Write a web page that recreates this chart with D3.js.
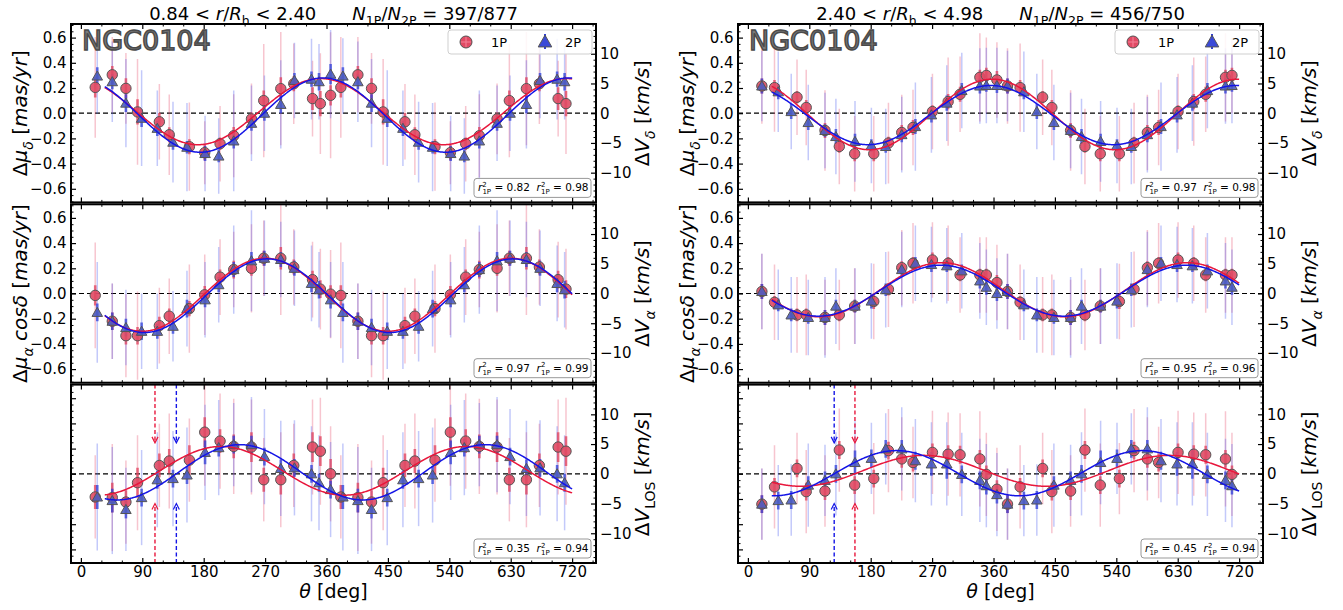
<!DOCTYPE html>
<html>
<head>
<meta charset="utf-8">
<script src="https://cdn.jsdelivr.net/npm/d3@7"></script>
<style>
  body { margin: 0; background: #fff; }
  svg { display: block; }
  text { font-family: "DejaVu Sans", sans-serif; fill: #000; white-space: pre; }
</style>
</head>
<body>
<svg id="chart" width="1343" height="610"></svg>
<script>
// ---------------- axis ticks ----------------
const thetaTicks = [0, 90, 180, 270, 360, 450, 540, 630, 720];
const masTicks = [-0.6, -0.4, -0.2, 0.0, 0.2, 0.4, 0.6];
const kmsTicks = [-10, -5, 0, 5, 10];

// ---------------- radial bins ----------------
const binLabels = ["0.84 < ", "2.40 < "];
const binUpper = ["2.40", "4.98"];
const starCounts = ["397/877", "456/750"];

// Position-angle bin centres (deg) for one turn; every bin is repeated at +360 deg.
const thetaInner1P = [21, 46, 66, 83, 115, 129.5, 159, 181.5, 204, 224, 250, 268, 293, 312, 339.5, 351, 366];
const thetaInner2P = [24, 46, 66, 89, 112, 135, 155.5, 182, 202, 224, 250, 269, 293, 313, 338, 349, 366];
const thetaOuter1P = [20.5, 39, 72, 85.5, 113, 134, 156.5, 184.5, 206, 225.5, 242, 270.5, 293.5, 311, 340, 349.5, 365];
const thetaOuter2P = [20.5, 44.5, 63.5, 88.5, 113, 129, 157, 181, 202, 225.5, 245.5, 269, 291.5, 313.5, 340, 349.5, 365];

// ---------------- inner bin: 0.84 < r/Rh < 2.40 ----------------
const muDecInner1P = [0.205, 0.305, 0.197, 0.01, -0.068, -0.171, -0.266, -0.313, -0.242, -0.179, -0.045, 0.10, 0.195, 0.234, 0.116, 0.076, 0.142];
const muDecInner1PErr = [0.08, 0.07, 0.08, 0.10, 0.07, 0.06, 0.06, 0.06, 0.05, 0.07, 0.05, 0.08, 0.09, 0.06, 0.09, 0.10, 0.08];
const muDecInner1PDisp = [0.40, 0.30, 0.28, 0.42, 0.30, 0.32, 0.35, 0.25, 0.30, 0.33, 0.28, 0.45, 0.45, 0.32, 0.30, 0.40, 0.50];
const muDecInner2P = [0.295, 0.25, 0.08, -0.04, -0.12, -0.23, -0.27, -0.32, -0.34, -0.22, -0.08, 0.0, 0.07, 0.26, 0.27, 0.25, 0.31];
const muDecInner2PErr = [0.07, 0.06, 0.07, 0.07, 0.06, 0.06, 0.05, 0.06, 0.05, 0.06, 0.06, 0.06, 0.07, 0.06, 0.06, 0.07, 0.08];
const muDecInner2PDisp = [0.30, 0.32, 0.35, 0.38, 0.30, 0.32, 0.35, 0.30, 0.30, 0.40, 0.30, 0.30, 0.35, 0.30, 0.32, 0.30, 0.35];

const muRaInner1P = [-0.015, -0.22, -0.335, -0.335, -0.255, -0.18, -0.12, -0.01, 0.13, 0.19, 0.20, 0.28, 0.28, 0.21, 0.11, 0.035, -0.005];
const muRaInner1PErr = [0.08, 0.07, 0.07, 0.07, 0.07, 0.06, 0.06, 0.07, 0.06, 0.07, 0.06, 0.06, 0.09, 0.06, 0.07, 0.07, 0.07];
const muRaInner1PDisp = [0.42, 0.30, 0.33, 0.35, 0.30, 0.30, 0.35, 0.32, 0.30, 0.30, 0.35, 0.30, 0.45, 0.30, 0.30, 0.32, 0.35];
const muRaInner2P = [-0.15, -0.22, -0.27, -0.30, -0.30, -0.26, -0.12, -0.05, 0.07, 0.19, 0.26, 0.28, 0.27, 0.20, 0.08, 0.03, -0.05];
const muRaInner2PErr = [0.07, 0.07, 0.07, 0.07, 0.06, 0.06, 0.07, 0.06, 0.06, 0.06, 0.07, 0.06, 0.06, 0.06, 0.07, 0.07, 0.07];
const muRaInner2PDisp = [0.40, 0.30, 0.30, 0.30, 0.30, 0.28, 0.30, 0.30, 0.30, 0.35, 0.40, 0.30, 0.30, 0.30, 0.30, 0.30, 0.30];

const vLosInner1P = [-3.9, -4.0, -4.75, -1.5, 1.4, 2.15, 2.3, 7.0, 5.5, 4.6, 4.5, -1.0, -1.0, 1.4, 4.5, 3.8, 0.0];
const vLosInner1PErr = [2.0, 2.5, 2.0, 2.5, 2.0, 2.0, 2.5, 2.5, 2.0, 2.0, 2.5, 2.0, 2.5, 2.0, 2.5, 2.5, 2.5];
const vLosInner1PDisp = [7, 9, 7, 8, 7, 8, 7, 9, 8, 8, 8, 7, 8, 7, 8, 9, 8];
const vLosInner2P = [-3.9, -4.5, -6.0, -4.0, -1.0, -0.8, -0.2, 3.6, 4.4, 4.9, 4.9, 2.9, 0.9, 1.0, 0.0, -1.5, -2.65];
const vLosInner2PErr = [2.0, 2.0, 1.5, 1.5, 1.5, 1.5, 1.5, 2.0, 1.5, 1.5, 1.5, 1.5, 1.5, 1.5, 1.5, 1.5, 1.5];
const vLosInner2PDisp = [9, 9, 7, 8, 8, 8, 8, 8, 8, 7, 8, 8, 8, 8, 8, 8, 8];

// ---------------- outer bin: 2.40 < r/Rh < 4.98 ----------------
const muDecOuter1P = [0.216, 0.203, 0.127, 0.045, -0.137, -0.264, -0.322, -0.322, -0.237, -0.153, -0.113, 0.013, 0.092, 0.15, 0.285, 0.30, 0.264];
const muDecOuter1PErr = [0.06, 0.06, 0.05, 0.06, 0.06, 0.05, 0.06, 0.06, 0.05, 0.06, 0.06, 0.05, 0.06, 0.06, 0.06, 0.06, 0.07];
const muDecOuter1PDisp = [0.30, 0.35, 0.30, 0.30, 0.32, 0.30, 0.30, 0.30, 0.32, 0.30, 0.30, 0.30, 0.35, 0.30, 0.35, 0.30, 0.30];
const muDecOuter2P = [0.216, 0.17, 0.013, -0.074, -0.137, -0.185, -0.224, -0.256, -0.264, -0.17, -0.106, -0.013, 0.08, 0.18, 0.216, 0.22, 0.22];
const muDecOuter2PErr = [0.06, 0.06, 0.06, 0.06, 0.05, 0.06, 0.06, 0.05, 0.05, 0.06, 0.06, 0.06, 0.06, 0.06, 0.06, 0.05, 0.06];
const muDecOuter2PDisp = [0.28, 0.32, 0.30, 0.30, 0.30, 0.30, 0.32, 0.30, 0.30, 0.30, 0.35, 0.30, 0.30, 0.30, 0.30, 0.30, 0.30];

const muRaOuter1P = [0.016, -0.07, -0.17, -0.17, -0.19, -0.17, -0.10, -0.063, 0.034, 0.205, 0.24, 0.266, 0.24, 0.147, 0.147, 0.147, 0.087];
const muRaOuter1PErr = [0.06, 0.05, 0.05, 0.05, 0.06, 0.05, 0.05, 0.06, 0.05, 0.05, 0.05, 0.06, 0.05, 0.05, 0.05, 0.05, 0.06];
const muRaOuter1PDisp = [0.30, 0.30, 0.30, 0.32, 0.30, 0.28, 0.30, 0.30, 0.30, 0.30, 0.32, 0.30, 0.30, 0.30, 0.30, 0.30, 0.30];
const muRaOuter2P = [0.016, -0.09, -0.17, -0.19, -0.19, -0.10, -0.10, -0.06, 0.03, 0.19, 0.24, 0.23, 0.22, 0.18, 0.10, 0.05, 0.0];
const muRaOuter2PErr = [0.06, 0.05, 0.05, 0.05, 0.06, 0.05, 0.05, 0.06, 0.05, 0.05, 0.05, 0.06, 0.05, 0.05, 0.06, 0.06, 0.06];
const muRaOuter2PDisp = [0.30, 0.28, 0.30, 0.30, 0.32, 0.30, 0.30, 0.30, 0.30, 0.30, 0.30, 0.30, 0.30, 0.30, 0.30, 0.30, 0.28];

const vLosOuter1P = [-5.1, -2.2, 0.9, -3.0, -2.9, 4.0, -1.9, -0.8, 3.9, 2.5, 1.9, 3.6, 3.3, 3.2, 2.5, -0.1, -2.6];
const vLosOuter1PErr = [1.5, 1.5, 1.5, 1.5, 1.5, 1.5, 1.5, 1.5, 1.5, 1.5, 1.5, 1.5, 1.5, 1.5, 1.5, 1.5, 1.5];
const vLosOuter1PDisp = [6, 7, 6, 7, 6, 7, 7, 6, 7, 7, 6, 7, 7, 7, 8, 7, 7];
const vLosOuter2P = [-5.1, -4.5, -4.4, -1.9, -1.1, 0.0, 1.9, 2.6, 4.2, 4.2, 2.2, 1.66, 1.66, -0.1, -1.1, -2.0, -3.5];
const vLosOuter2PErr = [1.5, 1.5, 1.5, 1.5, 1.5, 1.5, 2.0, 1.5, 1.5, 1.5, 1.5, 2.0, 2.5, 1.5, 1.5, 1.5, 1.5];
const vLosOuter2PDisp = [6, 6, 6, 7, 6, 7, 7, 6, 6, 7, 7, 7, 7, 7, 7, 7, 7];

// Sinusoid fits: [offset, amplitude, angle of maximum (deg)]
const fitMuDecInner1P = [0.0125, 0.2625, 351.5];
const fitMuDecInner2P = [-0.015, 0.295, 355];
const fitMuRaInner1P = [-0.01, 0.29, 270];
const fitMuRaInner2P = [-0.0175, 0.2925, 273];
const fitLosInner1P = [0.5, 4.1, 205.6];
const fitLosInner2P = [0.25, 4.65, 233];
const fitMuDecOuter1P = [-0.01, 0.28, 358];
const fitMuDecOuter2P = [-0.015, 0.235, 356];
const fitMuRaOuter1P = [0.03, 0.215, 284];
const fitMuRaOuter2P = [0.0225, 0.2025, 283];
const fitLosOuter1P = [0.5, 2.6, 258];
const fitLosOuter2P = [0.1, 3.8, 218];

// Goodness of fit shown in each panel
const r2Inner = [["0.82", "0.98"], ["0.97", "0.99"], ["0.35", "0.94"]];
const r2Outer = [["0.97", "0.98"], ["0.95", "0.96"], ["0.45", "0.94"]];

// ---------------- layout & style ----------------
const colX = [71, 738];
const panelW = 525;
const rowY = [24, 204.3, 384.6];
const panelH = 178.4;
const xDomain = [-14.5, 755];
const masLim = 0.708;
const kmsLim = 15;
const fitRange = [35, 720];

const style = {
  "1P": { fill: "#e04a64", bar: "#e0405c", line: "#e8173c", thin: "#e8506e" },
  "2P": { fill: "#4d5cc0", bar: "#2f3fd8", line: "#1414e6", thin: "#4a5af0" }
};

const svg = d3.select("#chart");
svg.append("rect").attr("width", 1343).attr("height", 610).attr("fill", "#fff");

// rich text helper: parts = [[text, flags]] flags: i italic, s subscript, S superscript
function rich(sel, parts, size) {
  let shift = 0;
  parts.forEach(([t, f]) => {
    const ts = sel.append("tspan").text(t);
    if (f.includes("i")) ts.attr("font-style", "italic");
    let target = 0;
    if (f.includes("s")) target = size * 0.28;
    if (f.includes("S")) target = -size * 0.38;
    if (target !== shift) ts.attr("dy", target - shift);
    shift = target;
    if (f.includes("s") || f.includes("S")) ts.attr("font-size", size * 0.7);
  });
  return sel;
}

const columns = [
  {
    theta: { "1P": thetaInner1P, "2P": thetaInner2P },
    rows: [
      { unit: "mas", data: { "1P": [muDecInner1P, muDecInner1PErr, muDecInner1PDisp], "2P": [muDecInner2P, muDecInner2PErr, muDecInner2PDisp] },
        fit: { "1P": fitMuDecInner1P, "2P": fitMuDecInner2P } },
      { unit: "mas", data: { "1P": [muRaInner1P, muRaInner1PErr, muRaInner1PDisp], "2P": [muRaInner2P, muRaInner2PErr, muRaInner2PDisp] },
        fit: { "1P": fitMuRaInner1P, "2P": fitMuRaInner2P } },
      { unit: "kms", data: { "1P": [vLosInner1P, vLosInner1PErr, vLosInner1PDisp], "2P": [vLosInner2P, vLosInner2PErr, vLosInner2PDisp] },
        fit: { "1P": fitLosInner1P, "2P": fitLosInner2P } }
    ],
    r2: r2Inner
  },
  {
    theta: { "1P": thetaOuter1P, "2P": thetaOuter2P },
    rows: [
      { unit: "mas", data: { "1P": [muDecOuter1P, muDecOuter1PErr, muDecOuter1PDisp], "2P": [muDecOuter2P, muDecOuter2PErr, muDecOuter2PDisp] },
        fit: { "1P": fitMuDecOuter1P, "2P": fitMuDecOuter2P } },
      { unit: "mas", data: { "1P": [muRaOuter1P, muRaOuter1PErr, muRaOuter1PDisp], "2P": [muRaOuter2P, muRaOuter2PErr, muRaOuter2PDisp] },
        fit: { "1P": fitMuRaOuter1P, "2P": fitMuRaOuter2P } },
      { unit: "kms", data: { "1P": [vLosOuter1P, vLosOuter1PErr, vLosOuter1PDisp], "2P": [vLosOuter2P, vLosOuter2PErr, vLosOuter2PDisp] },
        fit: { "1P": fitLosOuter1P, "2P": fitLosOuter2P } }
    ],
    r2: r2Outer
  }
];

const leftLabels = [
  [["Δ", ""], ["μ", "i"], ["δ", "si"], [" [", ""], ["mas/yr", "i"], ["]", ""]],
  [["Δ", ""], ["μ", "i"], ["α", "si"], [" cosδ", "i"], [" [", ""], ["mas/yr", "i"], ["]", ""]],
  null
];
const rightLabels = [
  [["Δ", ""], ["V", "i"], ["δ", "si"], [" [", ""], ["km/s", "i"], ["]", ""]],
  [["Δ", ""], ["V", "i"], ["α", "si"], [" [", ""], ["km/s", "i"], ["]", ""]],
  [["Δ", ""], ["V", "i"], ["LOS", "s"], [" [", ""], ["km/s", "i"], ["]", ""]]
];

const fmtMas = d3.format(".1f");
const fmtKms = d3.format("d");
const range = (a, b, s) => d3.range(a, b + s / 2, s);

columns.forEach((col, ci) => {
  const x0 = colX[ci];
  const x = d3.scaleLinear().domain(xDomain).range([x0, x0 + panelW]);

  col.rows.forEach((row, ri) => {
    const y0 = rowY[ri];
    const yMas = d3.scaleLinear().domain([-masLim, masLim]).range([y0 + panelH, y0]);
    const yKms = d3.scaleLinear().domain([-kmsLim, kmsLim]).range([y0 + panelH, y0]);
    const yData = row.unit === "mas" ? yMas : yKms;

    const clipId = `clip-${ci}-${ri}`;
    svg.append("clipPath").attr("id", clipId)
      .append("rect").attr("x", x0).attr("y", y0).attr("width", panelW).attr("height", panelH);
    const g = svg.append("g").attr("clip-path", `url(#${clipId})`);

    // zero reference
    g.append("line")
      .attr("x1", x0).attr("x2", x0 + panelW)
      .attr("y1", yData(0)).attr("y2", yData(0))
      .attr("stroke", "#000").attr("stroke-width", 1.2).attr("stroke-dasharray", "5,3");

    // points for both turns
    const pts = {};
    ["1P", "2P"].forEach(pop => {
      const [vals, err, disp] = row.data[pop];
      const th = col.theta[pop];
      const list = [];
      th.forEach((t, i) => {
        [0, 360].forEach(off => {
          if (t + off <= 720) list.push({ t: t + off, v: vals[i], e: err[i], d: disp[i] });
        });
      });
      pts[pop] = list;
    });

    // dispersion bars (thin, pale) and error bars (thick)
    ["1P", "2P"].forEach(pop => {
      const st = style[pop];
      g.selectAll(null).data(pts[pop]).join("line")
        .attr("x1", d => x(d.t)).attr("x2", d => x(d.t))
        .attr("y1", d => yData(d.v + d.d)).attr("y2", d => yData(d.v - d.d))
        .attr("stroke", st.thin).attr("stroke-width", 1.5).attr("stroke-opacity", 0.33);
    });
    ["1P", "2P"].forEach(pop => {
      const st = style[pop];
      g.selectAll(null).data(pts[pop]).join("line")
        .attr("x1", d => x(d.t)).attr("x2", d => x(d.t))
        .attr("y1", d => yData(d.v + d.e)).attr("y2", d => yData(d.v - d.e))
        .attr("stroke", st.bar).attr("stroke-width", 2.6).attr("stroke-opacity", 0.75);
    });

    // markers
    g.selectAll(null).data(pts["1P"]).join("circle")
      .attr("cx", d => x(d.t)).attr("cy", d => yData(d.v)).attr("r", 5.2)
      .attr("fill", style["1P"].fill).attr("fill-opacity", 0.9)
      .attr("stroke", "#555").attr("stroke-width", 1);
    const tri = d3.symbol().type(d3.symbolTriangle).size(48);
    g.selectAll(null).data(pts["2P"]).join("path")
      .attr("d", tri)
      .attr("transform", d => `translate(${x(d.t)},${yData(d.v) + 1})`)
      .attr("fill", style["2P"].fill).attr("fill-opacity", 0.9)
      .attr("stroke", "#555").attr("stroke-width", 1);

    // sinusoid fits
    const thetaFit = d3.range(fitRange[0], fitRange[1] + 0.5, 1);
    ["1P", "2P"].forEach(pop => {
      const [c, A, tp] = row.fit[pop];
      const line = d3.line()
        .x(t => x(t))
        .y(t => yData(c + A * Math.cos((t - tp) * Math.PI / 180)));
      g.append("path").datum(thetaFit).attr("d", line)
        .attr("fill", "none").attr("stroke", style[pop].line).attr("stroke-width", 1.5);
    });

    // zero-crossing arrows on the line-of-sight panel
    if (row.unit === "kms") {
      ["1P", "2P"].forEach(pop => {
        const [c, A, tp] = row.fit[pop];
        const tc = tp - 90 - Math.asin(c / A) * 180 / Math.PI;
        const xc = x(tc);
        const col_ = style[pop].line;
        const yTopEnd = yKms(5.2), yBotEnd = yKms(-5.0);
        g.append("line").attr("x1", xc).attr("x2", xc).attr("y1", y0).attr("y2", yTopEnd - 1)
          .attr("stroke", col_).attr("stroke-width", 1.4).attr("stroke-dasharray", "4,2.5");
        g.append("path").attr("d", `M${xc - 3},${yTopEnd - 6} L${xc},${yTopEnd} L${xc + 3},${yTopEnd - 6}`)
          .attr("fill", "none").attr("stroke", col_).attr("stroke-width", 1.2);
        g.append("line").attr("x1", xc).attr("x2", xc).attr("y1", y0 + panelH).attr("y2", yBotEnd + 1)
          .attr("stroke", col_).attr("stroke-width", 1.4).attr("stroke-dasharray", "4,2.5");
        g.append("path").attr("d", `M${xc - 3},${yBotEnd + 6} L${xc},${yBotEnd} L${xc + 3},${yBotEnd + 6}`)
          .attr("fill", "none").attr("stroke", col_).attr("stroke-width", 1.2);
      });
    }

    // ---------- axes (inward ticks on all sides) ----------
    const majorX = thetaTicks;
    const minorX = range(0, 750, 30).filter(v => v % 90 !== 0);
    const minorMas = range(-0.7, 0.7, 0.05).filter(v => Math.abs(Math.round(v * 100) % 20) !== 0);
    const minorKms = range(-15, 15, 1).filter(v => v % 5 !== 0);

    const axG = svg.append("g").attr("class", "axes");
    function place(axis, tx, ty) {
      const a = axG.append("g").attr("transform", `translate(${tx},${ty})`).call(axis);
      a.select(".domain").remove();
      a.selectAll(".tick line").attr("stroke", "#000");
      a.selectAll(".tick text").attr("font-size", 15).attr("font-family", "DejaVu Sans").attr("fill", "#000");
      return a;
    }
    const showX = ri === 2;
    place(d3.axisBottom(x).tickValues(majorX).tickSize(-5).tickPadding(3.5)
      .tickFormat(showX ? d3.format("d") : () => ""), 0, y0 + panelH)
      .selectAll(".tick line").attr("stroke-width", 1.2);
    place(d3.axisBottom(x).tickValues(minorX).tickSize(-2.5).tickFormat(() => ""), 0, y0 + panelH);
    place(d3.axisTop(x).tickValues(majorX).tickSize(-5).tickFormat(() => ""), 0, y0)
      .selectAll(".tick line").attr("stroke-width", 1.2);
    place(d3.axisTop(x).tickValues(minorX).tickSize(-2.5).tickFormat(() => ""), 0, y0);

    const showLeft = row.unit === "mas";
    place(d3.axisLeft(yMas).tickValues(masTicks).tickSize(-5).tickPadding(4.5)
      .tickFormat(showLeft ? fmtMas : () => ""), x0, 0)
      .selectAll(".tick line").attr("stroke-width", 1.2);
    place(d3.axisLeft(yMas).tickValues(minorMas).tickSize(-2.5).tickFormat(() => ""), x0, 0);
    place(d3.axisRight(yKms).tickValues(kmsTicks).tickSize(-5).tickPadding(4)
      .tickFormat(fmtKms), x0 + panelW, 0)
      .selectAll(".tick line").attr("stroke-width", 1.2);
    place(d3.axisRight(yKms).tickValues(minorKms).tickSize(-2.5).tickFormat(() => ""), x0 + panelW, 0);

    // frame
    svg.append("rect").attr("x", x0).attr("y", y0).attr("width", panelW).attr("height", panelH)
      .attr("fill", "none").attr("stroke", "#000").attr("stroke-width", 2);

    // r^2 box
    const [r1, r2] = col.r2[ri];
    const bw = 117, bh = 19;
    const bx = x0 + panelW - 5 - bw, by = y0 + panelH - 5 - bh;
    svg.append("rect").attr("x", bx).attr("y", by).attr("width", bw).attr("height", bh)
      .attr("rx", 3).attr("fill", "#fff").attr("fill-opacity", 0.85)
      .attr("stroke", "#999").attr("stroke-width", 1);
    const rt = svg.append("text").attr("x", bx + 4).attr("y", by + 13).attr("font-size", 10.5);
    [r1, r2].forEach((val, k) => {
      rt.append("tspan").attr("font-style", "italic").text("r");
      rt.append("tspan").attr("font-size", 7).attr("dy", -4.5).text("2");
      rt.append("tspan").attr("font-size", 7).attr("dx", -4.4).attr("dy", 7.5).text("1P");
      rt.append("tspan").attr("dy", -3).text(` = ${val}` + (k ? "" : "  "));
    });

    // axis labels
    if (leftLabels[ri]) {
      const lt = svg.append("text")
        .attr("transform", `translate(${x0 - 44},${y0 + panelH / 2}) rotate(-90)`)
        .attr("text-anchor", "middle").attr("font-size", 20);
      rich(lt, leftLabels[ri], 20);
    }
    const rtl = svg.append("text")
      .attr("transform", `translate(${x0 + panelW + 53},${y0 + panelH / 2}) rotate(-90)`)
      .attr("text-anchor", "middle").attr("font-size", 20);
    rich(rtl, rightLabels[ri], 20);

    if (ri === 2) {
      const xt = svg.append("text").attr("x", x0 + panelW / 2).attr("y", 598)
        .attr("text-anchor", "middle").attr("font-size", 19);
      rich(xt, [["θ", "i"], [" [deg]", ""]], 19);
    }

    // cluster name and legend on the top panel
    if (ri === 0) {
      svg.append("text").attr("x", x0 + 11).attr("y", y0 + 26)
        .attr("font-size", 27).style("fill", "#7a7a7a")
        .attr("stroke", "#4a4a4a").attr("stroke-width", 1.5)
        .text("NGC0104");

      const lw = 144, lh = 24;
      const lx = x0 + panelW - 4 - lw, ly = y0 + 6;
      svg.append("rect").attr("x", lx).attr("y", ly).attr("width", lw).attr("height", lh)
        .attr("rx", 3).attr("fill", "#fff").attr("fill-opacity", 0.85)
        .attr("stroke", "#cfcfcf").attr("stroke-width", 1);
      const cy = ly + lh / 2;
      // 1P entry
      svg.append("circle").attr("cx", lx + 18).attr("cy", cy).attr("r", 6)
        .attr("fill", style["1P"].fill).attr("stroke", "#555").attr("stroke-width", 1);
      svg.append("line").attr("x1", lx + 18).attr("x2", lx + 18).attr("y1", cy - 5).attr("y2", cy + 5)
        .attr("stroke", "#f07a90").attr("stroke-width", 1.2);
      svg.append("line").attr("x1", lx + 13).attr("x2", lx + 23).attr("y1", cy).attr("y2", cy)
        .attr("stroke", "#f07a90").attr("stroke-width", 1.2);
      svg.append("text").attr("x", lx + 43).attr("y", cy + 5).attr("font-size", 13).text("1P");
      // 2P entry
      svg.append("line").attr("x1", lx + 97).attr("x2", lx + 97).attr("y1", cy - 8).attr("y2", cy + 7)
        .attr("stroke", style["2P"].bar).attr("stroke-width", 2);
      svg.append("path").attr("d", d3.symbol().type(d3.symbolTriangle).size(80))
        .attr("transform", `translate(${lx + 97},${cy + 1})`)
        .attr("fill", "#3a4ad8").attr("stroke", "#555").attr("stroke-width", 1);
      svg.append("text").attr("x", lx + 117).attr("y", cy + 5).attr("font-size", 13).text("2P");

      // title
      const tt = svg.append("text").attr("x", x0 + panelW / 2).attr("y", 20)
        .attr("text-anchor", "middle").attr("font-size", 18);
      rich(tt, [[binLabels[ci], ""], ["r", "i"], ["/", ""], ["R", "i"], ["h", "s"], [" < " + binUpper[ci], ""]], 18);
      tt.append("tspan").attr("dx", 36).attr("font-style", "italic").text("N");
      rich(tt, [["1P", "s"], ["/", ""], ["N", "i"], ["2P", "s"], [" = " + starCounts[ci], ""]], 18);
    }
  });
});
</script>
</body>
</html>
